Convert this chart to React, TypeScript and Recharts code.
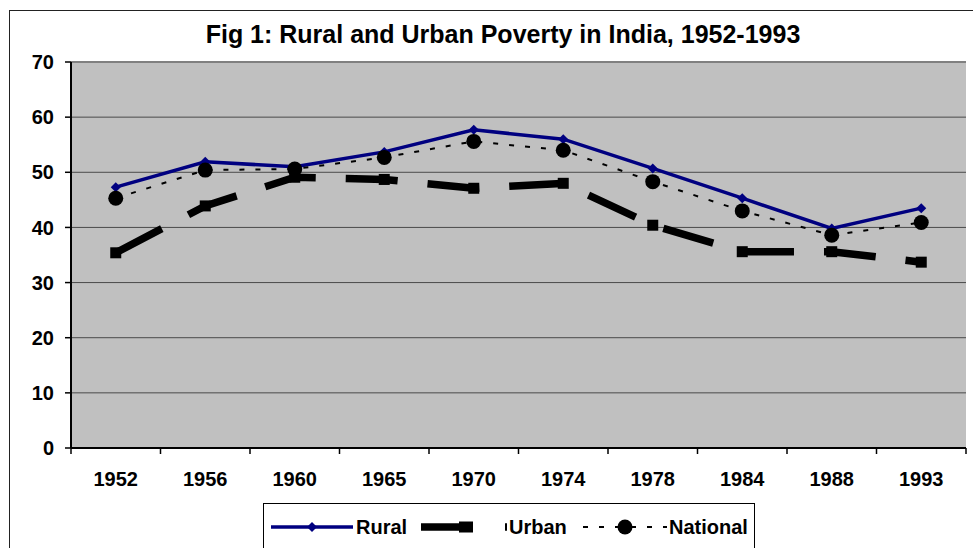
import React from 'react';
import { LineChart, Line, XAxis, YAxis, CartesianGrid, ReferenceLine } from 'recharts';

const years = ['1952', '1956', '1960', '1965', '1970', '1974', '1978', '1984', '1988', '1993'];
const rural = [47.3, 51.9, 51.0, 53.7, 57.7, 56.0, 50.7, 45.3, 39.8, 43.5];
const urban = [35.4, 43.9, 49.1, 48.7, 47.1, 48.0, 40.4, 35.6, 35.6, 33.7];
const national = [45.3, 50.4, 50.6, 52.7, 55.6, 54.0, 48.3, 43.0, 38.6, 40.9];
const yTicks = [0, 10, 20, 30, 40, 50, 60, 70];

const data = years.map((year, i) => ({
  year,
  Rural: rural[i],
  Urban: urban[i],
  National: national[i],
}));

const FONT = '"Liberation Sans", Arial, sans-serif';
const PLOT_LEFT = 71;
const PLOT_RIGHT = 966;
const PLOT_BOTTOM = 448;
const BAND = (PLOT_RIGHT - PLOT_LEFT) / years.length;

const XTick = (props: any) => {
  const { x, payload, index } = props;
  const half = BAND / 2;
  return (
    <g>
      <line x1={x - half} y1={PLOT_BOTTOM} x2={x - half} y2={PLOT_BOTTOM + 6} stroke="#000" strokeWidth={1.5} />
      {index === years.length - 1 && (
        <line x1={x + half} y1={PLOT_BOTTOM} x2={x + half} y2={PLOT_BOTTOM + 6} stroke="#000" strokeWidth={1.5} />
      )}
      <text x={x} y={PLOT_BOTTOM + 38} textAnchor="middle" fontFamily={FONT} fontWeight="bold" fontSize={20} fill="#000">
        {payload.value}
      </text>
    </g>
  );
};

const Diamond = (props: any) => {
  const { cx, cy } = props;
  if (cx == null || cy == null) return null;
  return <path d={`M${cx},${cy - 5} L${cx + 5},${cy} L${cx},${cy + 5} L${cx - 5},${cy} Z`} fill="#000080" />;
};

const Square = (props: any) => {
  const { cx, cy } = props;
  if (cx == null || cy == null) return null;
  return <rect x={cx - 5.5} y={cy - 5.5} width={11} height={11} fill="#000" />;
};

const Circle = (props: any) => {
  const { cx, cy } = props;
  if (cx == null || cy == null) return null;
  return <circle cx={cx} cy={cy} r={7.5} fill="#000" />;
};

const LegendBox = () => (
  <div
    style={{
      position: 'absolute',
      left: 263,
      top: 503,
      width: 492,
      height: 60,
      border: '1px solid #000',
      background: '#fff',
      boxSizing: 'border-box',
    }}
  >
    <svg width={492} height={60} style={{ position: 'absolute', left: -1, top: -1 }}>
      <g>
        <line x1={8} y1={24} x2={90} y2={24} stroke="#000080" strokeWidth={3.5} />
        <path d="M49,19 L54,24 L49,29 L44,24 Z" fill="#000080" />
        <text x={93} y={31} fontFamily={FONT} fontWeight="bold" fontSize={20} fill="#000">Rural</text>
      </g>
      <g>
        <line x1={158} y1={24} x2={244} y2={24} stroke="#000" strokeWidth={7.5} strokeDasharray="42 42" />
        <rect x={196} y={18.5} width={14} height={11} fill="#000" />
        <text x={246} y={31} fontFamily={FONT} fontWeight="bold" fontSize={20} fill="#000">Urban</text>
      </g>
      <g>
        <line x1={320} y1={24} x2={404} y2={24} stroke="#000" strokeWidth={2} strokeDasharray="5 11" />
        <circle cx={362} cy={24} r={7.5} fill="#000" />
        <text x={406} y={31} fontFamily={FONT} fontWeight="bold" fontSize={20} fill="#000">National</text>
      </g>
    </svg>
  </div>
);

export default function App() {
  return (
    <div
      style={{
        position: 'absolute',
        left: 0,
        top: 0,
        width: 973,
        height: 548,
        overflow: 'hidden',
        background: '#fff',
        fontFamily: FONT,
      }}
    >
      <div
        style={{
          position: 'absolute',
          left: 9,
          top: 10,
          width: 1000,
          height: 600,
          border: '1.5px solid #222',
          boxSizing: 'border-box',
        }}
      />
      <div
        style={{
          position: 'absolute',
          left: 0,
          top: 19,
          width: 1006,
          textAlign: 'center',
          fontWeight: 'bold',
          fontSize: 25,
          lineHeight: '30px',
          color: '#000',
        }}
      >
        Fig 1: Rural and Urban Poverty in India, 1952-1993
      </div>
      <div style={{ position: 'absolute', left: 0, top: 0 }}>
        <LineChart
          width={973}
          height={548}
          data={data}
          margin={{ top: 62, right: 973 - PLOT_RIGHT, bottom: 60, left: 0 }}
        >
          <CartesianGrid fill="#c0c0c0" vertical={false} stroke="#4a4a4a" strokeWidth={1} yAxisId="l" />
          <XAxis
            dataKey="year"
            height={40}
            tickLine={false}
            tickSize={5}
            padding={{ left: BAND / 2, right: BAND / 2 }}
            axisLine={{ stroke: '#000', strokeWidth: 2 }}
            tick={<XTick />}
            interval={0}
          />
          <YAxis
            yAxisId="l"
            width={PLOT_LEFT}
            domain={[0, 70]}
            ticks={yTicks}
            interval={0}
            tickSize={6}
            tickMargin={11}
            axisLine={{ stroke: '#000', strokeWidth: 2 }}
            tickLine={{ stroke: '#000', strokeWidth: 1.5 }}
            tick={{ fontFamily: FONT, fontWeight: 'bold', fontSize: 20, fill: '#000' }}
          />
          <YAxis
            yAxisId="r"
            orientation="right"
            width={0}
            domain={[0, 70]}
            tick={false}
            tickLine={false}
            axisLine={{ stroke: '#808080', strokeWidth: 2 }}
          />
          <ReferenceLine yAxisId="l" y={70} stroke="#808080" strokeWidth={2} />
          <Line
            yAxisId="l"
            dataKey="Urban"
            stroke="#000"
            strokeWidth={7.5}
            strokeDasharray="52 30"
            dot={<Square />}
            activeDot={false}
            isAnimationActive={false}
          />
          <Line
            yAxisId="l"
            dataKey="Rural"
            stroke="#000080"
            strokeWidth={3.5}
            dot={<Diamond />}
            activeDot={false}
            isAnimationActive={false}
          />
          <Line
            yAxisId="l"
            dataKey="National"
            stroke="#000"
            strokeWidth={2}
            strokeDasharray="5 11"
            dot={<Circle />}
            activeDot={false}
            isAnimationActive={false}
          />
        </LineChart>
      </div>
      <LegendBox />
    </div>
  );
}
